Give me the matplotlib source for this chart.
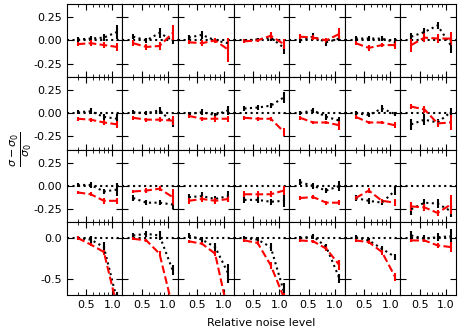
import numpy as np
import matplotlib
matplotlib.use("Agg")
import matplotlib.pyplot as plt
from matplotlib.ticker import FixedLocator, FixedFormatter, LogLocator, NullFormatter

plt.rcParams['font.size'] = 8
plt.rcParams['xtick.direction'] = 'in'
plt.rcParams['ytick.direction'] = 'in'
plt.rcParams['xtick.top'] = True
plt.rcParams['ytick.right'] = True

noise = [0.4, 0.566, 0.8, 1.131]

# black dotted series, [row][col][point]
black = [
    [[0.01, 0.02, 0.03, 0.09], [0.04, 0.0, 0.08, 0.0], [0.03, 0.06, 0.0, -0.03], [0.0, 0.01, 0.03, -0.08],
     [0.0, 0.04, -0.02, 0.02], [0.02, 0.02, 0.02, -0.02], [0.04, 0.09, 0.16, -0.05]],
    [[0.01, 0.02, -0.04, -0.06], [0.01, 0.0, 0.03, -0.1], [-0.01, 0.01, -0.02, 0.03], [0.05, 0.06, 0.08, 0.17],
     [0.0, 0.03, -0.04, -0.08], [0.0, -0.02, 0.05, -0.01], [-0.12, -0.07, -0.1, 0.01]],
    [[0.01, 0.01, -0.06, -0.04], [-0.13, -0.18, -0.18, -0.2], [-0.12, -0.11, -0.14, -0.11], [-0.15, -0.15, -0.17, -0.16],
     [0.04, 0.0, -0.05, 0.0], [-0.13, -0.16, -0.18, -0.05], [-0.25, -0.18, -0.19, -0.27]],
    [[0.0, -0.02, -0.11, -0.75], [0.03, 0.05, 0.03, -0.39], [0.03, -0.02, -0.11, -0.43], [0.0, -0.02, -0.11, -0.65],
     [0.0, 0.02, -0.11, -0.49], [0.01, -0.03, -0.13, -0.23], [0.03, -0.01, 0.01, 0.02]],
]
black_err = [
    [[0.03, 0.03, 0.04, 0.07], [0.03, 0.03, 0.05, 0.04], [0.03, 0.04, 0.03, 0.05], [0.02, 0.02, 0.04, 0.07],
     [0.03, 0.04, 0.04, 0.03], [0.03, 0.03, 0.03, 0.05], [0.04, 0.04, 0.04, 0.08]],
    [[0.02, 0.03, 0.03, 0.05], [0.02, 0.02, 0.04, 0.05], [0.02, 0.03, 0.02, 0.05], [0.03, 0.03, 0.03, 0.06],
     [0.02, 0.03, 0.03, 0.04], [0.02, 0.02, 0.04, 0.02], [0.06, 0.06, 0.04, 0.05]],
    [[0.02, 0.03, 0.03, 0.07], [0.03, 0.03, 0.03, 0.05], [0.03, 0.04, 0.03, 0.05], [0.03, 0.03, 0.03, 0.07],
     [0.03, 0.03, 0.03, 0.05], [0.03, 0.03, 0.03, 0.05], [0.06, 0.04, 0.05, 0.06]],
    [[0.02, 0.04, 0.06, 0.1], [0.03, 0.04, 0.05, 0.06], [0.03, 0.03, 0.05, 0.12], [0.02, 0.03, 0.05, 0.1],
     [0.02, 0.03, 0.04, 0.06], [0.02, 0.03, 0.03, 0.04], [0.05, 0.04, 0.05, 0.09]],
]

# red dashed series
red = [
    [[-0.04, -0.03, -0.05, -0.07], [-0.03, -0.07, -0.06, 0.08], [-0.02, -0.03, 0.0, -0.1], [-0.01, 0.0, 0.05, -0.04],
     [0.04, 0.03, 0.0, 0.07], [-0.03, -0.08, -0.05, -0.05], [-0.05, 0.03, 0.02, 0.02]],
    [[-0.06, -0.07, -0.1, -0.12], [-0.05, -0.07, -0.07, -0.08], [-0.03, -0.06, -0.06, -0.06], [-0.05, -0.06, -0.06, -0.2],
     [-0.05, -0.1, -0.1, -0.13], [-0.04, -0.1, -0.1, -0.13], [0.07, 0.04, -0.11, -0.1]],
    [[-0.07, -0.09, -0.16, -0.16], [-0.06, -0.05, -0.03, -0.12], [-0.16, -0.14, -0.16, -0.14], [-0.09, -0.09, -0.09, -0.05],
     [-0.13, -0.12, -0.18, -0.18], [-0.13, -0.05, -0.16, -0.18], [-0.22, -0.23, -0.29, -0.2]],
    [[0.0, -0.08, -0.17, -0.83], [-0.01, -0.03, -0.19, -0.84], [-0.04, -0.07, -0.19, -0.91], [-0.03, -0.06, -0.33, -0.72],
     [-0.03, -0.04, -0.13, -0.33], [-0.03, -0.05, -0.17, -0.47], [-0.03, -0.03, -0.09, -0.11]],
]
red_err = [
    [[0.02, 0.03, 0.03, 0.04], [0.03, 0.03, 0.04, 0.08], [0.02, 0.03, 0.03, 0.13], [0.02, 0.02, 0.04, 0.05],
     [0.03, 0.03, 0.03, 0.06], [0.02, 0.03, 0.02, 0.04], [0.07, 0.05, 0.05, 0.07]],
    [[0.02, 0.02, 0.03, 0.04], [0.02, 0.02, 0.03, 0.05], [0.02, 0.02, 0.03, 0.03], [0.02, 0.02, 0.02, 0.04],
     [0.02, 0.02, 0.02, 0.05], [0.02, 0.02, 0.02, 0.03], [0.03, 0.04, 0.04, 0.08]],
    [[0.02, 0.02, 0.03, 0.03], [0.02, 0.03, 0.03, 0.09], [0.03, 0.03, 0.03, 0.03], [0.03, 0.03, 0.03, 0.05],
     [0.02, 0.02, 0.02, 0.03], [0.02, 0.03, 0.02, 0.04], [0.05, 0.04, 0.03, 0.1]],
    [[0.02, 0.02, 0.03, 0.05], [0.02, 0.02, 0.03, 0.05], [0.02, 0.02, 0.03, 0.05], [0.02, 0.02, 0.04, 0.06],
     [0.02, 0.02, 0.03, 0.06], [0.02, 0.02, 0.03, 0.05], [0.02, 0.02, 0.03, 0.06]],
]

row_ylim = [(-0.39, 0.39), (-0.39, 0.39), (-0.39, 0.39), (-0.69, 0.19)]
row_yticks = [[-0.25, 0.0, 0.25]] * 3 + [[-0.5, 0.0]]
xticks = [0.5, 1.0]
xtick_labels = ['0.5', '1.0']

fig, axes = plt.subplots(4, 7, figsize=(4.73, 3.36), dpi=100, sharex=True)
fig.subplots_adjust(left=0.141, right=0.964, top=0.988, bottom=0.122, wspace=0, hspace=0)

for r in range(4):
    for c in range(7):
        ax = axes[r, c]
        ax.axhline(0, ls=':', color='k', lw=1.5)
        ax.errorbar(noise, black[r][c], yerr=black_err[r][c], color='k', ls=':', lw=1.5,
                    elinewidth=1.5, capsize=0)
        ax.errorbar(noise, red[r][c], yerr=red_err[r][c], color='r', ls='--', lw=1.5,
                    elinewidth=1.5, capsize=0)
        ax.set_xscale('log')
        ax.set_xlim(0.3, 1.3)
        ax.xaxis.set_major_locator(FixedLocator(xticks))
        ax.xaxis.set_major_formatter(FixedFormatter(xtick_labels))
        ax.xaxis.set_minor_locator(LogLocator(subs=np.arange(2, 10)))
        ax.xaxis.set_minor_formatter(NullFormatter())
        ax.set_ylim(*row_ylim[r])
        ax.set_yticks(row_yticks[r])
        ax.tick_params(which='major', length=4, width=0.8)
        ax.tick_params(which='minor', length=2, width=0.6)
        if c > 0:
            ax.tick_params(labelleft=False)
        if r < 3:
            ax.tick_params(labelbottom=False)
        if r == 3:
            ax.yaxis.set_major_formatter(plt.FormatStrFormatter('%.1f'))
        else:
            ax.yaxis.set_major_formatter(plt.FormatStrFormatter('%.2f'))

fig.text(0.553, 0.025, 'Relative noise level', ha='center', va='bottom', fontsize=8)
fig.text(0.018, 0.555, r'$\frac{\sigma - \sigma_0}{\sigma_0}$', rotation=90, ha='left', va='center', fontsize=11.5)

fig.savefig('out.png', dpi=100)
